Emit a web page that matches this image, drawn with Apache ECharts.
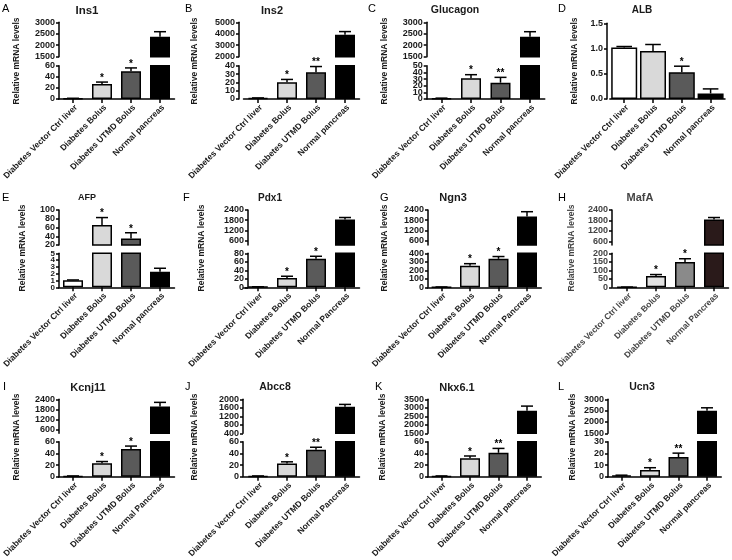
<!DOCTYPE html>
<html><head><meta charset="utf-8">
<script src="https://cdn.jsdelivr.net/npm/echarts@6/dist/echarts.min.js"></script>
<style>html,body{margin:0;padding:0;background:#fff}#c{width:732px;height:560px}</style>
</head><body><div id="c"></div>
<script>
// ---------------- data ----------------
const categoriesLower = ['Diabetes Vector Ctrl liver', 'Diabetes Bolus', 'Diabetes UTMD Bolus', 'Normal pancreas'];
const categoriesUpper = ['Diabetes Vector Ctrl liver', 'Diabetes Bolus', 'Diabetes UTMD Bolus', 'Normal Pancreas'];
const panelLetters = ['A', 'B', 'C', 'D', 'E', 'F', 'G', 'H', 'I', 'J', 'K', 'L'];
const geneNames = ['Ins1', 'Ins2', 'Glucagon', 'ALB', 'AFP', 'Pdx1', 'Ngn3', 'MafA', 'Kcnj11', 'Abcc8', 'Nkx6.1', 'Ucn3'];
const yAxisTitle = 'Relative mRNA levels';

const ins1Mean = [1, 27, 50, 2370];
const ins1Sem = [0.3, 3.5, 6, 220];
const ins1Sig = ['', '*', '*', ''];
const ins1LowTicks = [0, 20, 40, 60];
const ins1HighTicks = [1500, 2000, 2500, 3000];

const ins2Mean = [1, 20, 32, 3920];
const ins2Sem = [0.3, 3.5, 7, 270];
const ins2Sig = ['', '*', '**', ''];
const ins2LowTicks = [0, 10, 20, 30, 40];
const ins2HighTicks = [2000, 3000, 4000, 5000];

const glucagonMean = [1, 31, 24.5, 2370];
const glucagonSem = [0.3, 5.5, 8, 220];
const glucagonSig = ['', '*', '**', ''];
const glucagonLowTicks = [0, 10, 20, 30, 40, 50];
const glucagonHighTicks = [1500, 2000, 2500, 3000];

const albMean = [1.02, 0.95, 0.53, 0.11];
const albSem = [0.02, 0.13, 0.12, 0.09];
const albSig = ['', '', '*', ''];
const albTicks = [0, 0.5, 1.0, 1.5];

const afpMean = [1.03, 65.7, 35, 2.3];
const afpSem = [0.05, 17, 13, 0.5];
const afpSig = ['', '*', '*', ''];
const afpLowTicks = [0, 1, 2, 3, 4, 5];
const afpHighTicks = [20, 40, 60, 80, 100];

const pdx1Mean = [1, 22, 67, 1850];
const pdx1Sem = [0.3, 4, 6, 110];
const pdx1Sig = ['', '*', '*', ''];
const pdx1LowTicks = [0, 20, 40, 60, 80];
const pdx1HighTicks = [600, 1200, 1800, 2400];

const ngn3Mean = [3, 255, 335, 2020];
const ngn3Sem = [1, 23, 27, 280];
const ngn3Sig = ['', '*', '*', ''];
const ngn3LowTicks = [0, 100, 200, 300, 400];
const ngn3HighTicks = [600, 1200, 1800, 2400];

const mafaMean = [1, 67, 149, 1860];
const mafaSem = [0.3, 8, 19, 110];
const mafaSig = ['', '*', '*', ''];
const mafaLowTicks = [0, 50, 100, 150, 200];
const mafaHighTicks = [600, 1200, 1800, 2400];

const kcnj11Mean = [1, 23, 47.5, 1970];
const kcnj11Sem = [0.3, 3, 5, 250];
const kcnj11Sig = ['', '*', '*', ''];
const kcnj11LowTicks = [0, 20, 40, 60];
const kcnj11HighTicks = [600, 1200, 1800, 2400];

const abcc8Mean = [1, 22.5, 46, 1650];
const abcc8Sem = [0.3, 3, 4.5, 110];
const abcc8Sig = ['', '*', '**', ''];
const abcc8LowTicks = [0, 20, 40, 60];
const abcc8HighTicks = [400, 800, 1200, 1600, 2000];

const nkx61Mean = [1, 31.5, 41, 2820];
const nkx61Sem = [0.3, 4, 7.5, 280];
const nkx61Sig = ['', '*', '**', ''];
const nkx61LowTicks = [0, 20, 40, 60];
const nkx61HighTicks = [1500, 2000, 2500, 3000, 3500];

const ucn3Mean = [1, 5.7, 16.8, 2490];
const ucn3Sem = [0.3, 2, 3.4, 135];
const ucn3Sig = ['', '*', '**', ''];
const ucn3LowTicks = [0, 10, 20, 30];
const ucn3HighTicks = [1500, 2000, 2500, 3000];

// lower end of the upper (broken) axis segment
const highAxisFloor = [1500, 2000, 1500, null, 20, 350, 350, 400, 400, 400, 1500, 1500];

// ---------------- panels ----------------
const panels = [
  {mean: ins1Mean, sem: ins1Sem, sig: ins1Sig, low: ins1LowTicks, high: ins1HighTicks, cats: categoriesLower},
  {mean: ins2Mean, sem: ins2Sem, sig: ins2Sig, low: ins2LowTicks, high: ins2HighTicks, cats: categoriesLower},
  {mean: glucagonMean, sem: glucagonSem, sig: glucagonSig, low: glucagonLowTicks, high: glucagonHighTicks, cats: categoriesLower},
  {mean: albMean, sem: albSem, sig: albSig, low: albTicks, high: null, cats: categoriesLower},
  {mean: afpMean, sem: afpSem, sig: afpSig, low: afpLowTicks, high: afpHighTicks, cats: categoriesLower},
  {mean: pdx1Mean, sem: pdx1Sem, sig: pdx1Sig, low: pdx1LowTicks, high: pdx1HighTicks, cats: categoriesUpper},
  {mean: ngn3Mean, sem: ngn3Sem, sig: ngn3Sig, low: ngn3LowTicks, high: ngn3HighTicks, cats: categoriesUpper},
  {mean: mafaMean, sem: mafaSem, sig: mafaSig, low: mafaLowTicks, high: mafaHighTicks, cats: categoriesUpper},
  {mean: kcnj11Mean, sem: kcnj11Sem, sig: kcnj11Sig, low: kcnj11LowTicks, high: kcnj11HighTicks, cats: categoriesUpper},
  {mean: abcc8Mean, sem: abcc8Sem, sig: abcc8Sig, low: abcc8LowTicks, high: abcc8HighTicks, cats: categoriesUpper},
  {mean: nkx61Mean, sem: nkx61Sem, sig: nkx61Sig, low: nkx61LowTicks, high: nkx61HighTicks, cats: categoriesLower},
  {mean: ucn3Mean, sem: ucn3Sem, sig: ucn3Sig, low: ucn3LowTicks, high: ucn3HighTicks, cats: categoriesLower}
];

// ---------------- layout ----------------
const FONT = '"Liberation Sans", Arial, sans-serif';
const rows = [
  {hiTop: 22.3, hiBot: 56.7, loTop: 65.7, loBot: 99, titleY: 10.5, letterY: 8.5, nameY: 61},
  {hiTop: 210, hiBot: 245, loTop: 253.3, loBot: 287.3, titleY: 198, letterY: 197.5, nameY: 248},
  {hiTop: 399.3, hiBot: 433.3, loTop: 441.7, loBot: 476.7, titleY: 387.5, letterY: 387, nameY: 437}
];
const layout = [
  {axisX: 59, c2: 102, sp: 29, barW: 20, titleX: 87, titleSize: 11.5, letterX: 2, nameX: 17},
  {axisX: 239, c2: 287, sp: 29, barW: 20, titleX: 272, titleSize: 11, letterX: 185, nameX: 195},
  {axisX: 426.7, c2: 471, sp: 29.5, barW: 20, titleX: 455, titleSize: 10.5, letterX: 368, nameX: 385},
  {axisX: 607, c2: 653, sp: 28.8, barW: 26, titleX: 642, titleSize: 10, letterX: 558, nameX: 575, single: {top: 23.3, bot: 99}},
  {axisX: 59, c2: 102, sp: 29, barW: 20, titleX: 87, titleSize: 9, letterX: 2, nameX: 23, lowFont: 8},
  {axisX: 248, c2: 287, sp: 29, barW: 20, titleX: 270, titleSize: 10, letterX: 183, nameX: 202},
  {axisX: 428, c2: 470, sp: 28.5, barW: 20, titleX: 453, titleSize: 11, letterX: 380, nameX: 385},
  {axisX: 612, c2: 656, sp: 29, barW: 20, titleX: 640, titleSize: 11, letterX: 558, nameX: 572, colors: ['#ffffff', '#e2e2e2', '#8a8a8a', '#2a1a1a'], text: '#444'},
  {axisX: 59, c2: 102, sp: 29, barW: 20, titleX: 88, titleSize: 11, letterX: 3, nameX: 17},
  {axisX: 243, c2: 287, sp: 29, barW: 20, titleX: 275, titleSize: 10.5, letterX: 185, nameX: 195},
  {axisX: 428, c2: 470, sp: 28.5, barW: 20, titleX: 457, titleSize: 11, letterX: 375, nameX: 383},
  {axisX: 608, c2: 650, sp: 28.5, barW: 20, titleX: 642, titleSize: 10.5, letterX: 558, nameX: 573}
];
const barColors = ['#ffffff', '#d9d9d9', '#5a5a5a', '#000000'];

const grids = [], xAxes = [], yAxes = [], series = [], graphics = [];

function addPair(L, top, W, H, axisX, cats, ticks, min, showX, textColor, lowFont, fmt) {
  const gi = grids.length;
  const max = ticks[ticks.length - 1];
  grids.push({left: L, top: top, width: W, height: H, containLabel: false, outerBoundsMode: 'none'});
  xAxes.push({
    type: 'category', gridIndex: gi, data: cats, show: showX, boundaryGap: true,
    axisLine: {show: showX, onZero: false, lineStyle: {color: '#000', width: 1.5}},
    axisTick: {show: showX, alignWithLabel: true, length: 4, lineStyle: {color: '#000', width: 1.5}},
    axisLabel: {show: showX, interval: 0, rotate: 45, margin: 4, verticalAlign: 'top', color: textColor, fontFamily: FONT, fontWeight: 'bold', fontSize: 8.5},
    splitLine: {show: false}
  });
  // tick labels are split over two coincident y axes (alternate ticks) so that
  // tightly packed labels are all kept, as in the original figure
  const evenTicks = ticks.filter((t, i) => i % 2 === 0);
  const oddTicks = ticks.filter((t, i) => i % 2 === 1);
  const labelBase = {show: true, margin: 4, showMinLabel: true, showMaxLabel: true, hideOverlap: false,
    formatter: fmt, color: textColor, fontFamily: FONT, fontWeight: 'bold', fontSize: lowFont || 9};
  const yi = yAxes.length;
  yAxes.push({
    type: 'value', gridIndex: gi, position: 'left', min: min, max: max, offset: L - axisX,
    axisLine: {show: true, onZero: false, lineStyle: {color: '#000', width: 1.5}},
    axisTick: {show: true, length: 3, customValues: ticks, lineStyle: {color: '#000', width: 1.5}},
    axisLabel: Object.assign({customValues: evenTicks}, labelBase),
    splitLine: {show: false}
  });
  if (oddTicks.length) {
    yAxes.push({
      type: 'value', gridIndex: gi, position: 'left', min: min, max: max, offset: L - axisX,
      axisLine: {show: false}, axisTick: {show: false},
      axisLabel: Object.assign({customValues: oddTicks}, labelBase),
      splitLine: {show: false}
    });
  }
  return {xi: gi, yi: yi};
}

function makeErrRender(sigs, capHalf) {
  return function (params, api) {
    const i = api.value(0), m = api.value(1), s = api.value(2);
    const a = api.coord([i, m]), b = api.coord([i, m + s]);
    const st = {stroke: '#000', lineWidth: 1.5};
    const ch = [
      {type: 'line', shape: {x1: a[0], y1: a[1], x2: b[0], y2: b[1]}, style: st},
      {type: 'line', shape: {x1: b[0] - capHalf, y1: b[1], x2: b[0] + capHalf, y2: b[1]}, style: st}
    ];
    const sg = sigs[params.dataIndex];
    if (sg) ch.push({type: 'text', x: b[0], y: b[1] - 4,
      style: {text: sg, font: 'bold 10px ' + FONT, fill: '#000', align: 'center', verticalAlign: 'middle', textAlign: 'center', textVerticalAlign: 'middle'}});
    return {type: 'group', children: ch};
  };
}

function addSeries(ax, p, lay, colors, filterFn) {
  const barData = p.mean.map((v, i) => filterFn(i)
    ? {value: v, itemStyle: {color: colors[i], borderColor: '#000', borderWidth: 1.5}}
    : {value: '-'});
  series.push({type: 'bar', xAxisIndex: ax.xi, yAxisIndex: ax.yi, data: barData, barWidth: lay.barW, clip: true, silent: true, animation: false});
}
function addErr(ax, p, lay, filterFn) {
  const data = [], sigs = [];
  p.mean.forEach((v, i) => { if (filterFn(i)) { data.push([i, v, p.sem[i]]); sigs.push(p.sig[i]); } });
  if (!data.length) return;
  series.push({type: 'custom', xAxisIndex: ax.xi, yAxisIndex: ax.yi, data: data, clip: false, silent: true, animation: false,
    renderItem: makeErrRender(sigs, lay.barW * 0.3)});
}

const intFmt = v => String(v);
panels.forEach((p, k) => {
  const lay = layout[k];
  const row = rows[Math.floor(k / 4)];
  const L = lay.c2 - 1.5 * lay.sp, W = 4 * lay.sp;
  const colors = lay.colors || barColors;
  const textColor = lay.text || '#1a1a1a';
  if (lay.single) {
    const ax = addPair(L, lay.single.top, W, lay.single.bot - lay.single.top, lay.axisX, p.cats, p.low, p.low[0], true, textColor, null, v => v.toFixed(1));
    addSeries(ax, p, lay, colors, () => true);
    addErr(ax, p, lay, () => true);
  } else {
    const floor = highAxisFloor[k];
    const hi = addPair(L, row.hiTop, W, row.hiBot - row.hiTop, lay.axisX, p.cats, p.high, floor, false, textColor, null, intFmt);
    const lo = addPair(L, row.loTop, W, row.loBot - row.loTop, lay.axisX, p.cats, p.low, 0, true, textColor, lay.lowFont, intFmt);
    addSeries(lo, p, lay, colors, () => true);
    addSeries(hi, p, lay, colors, i => p.mean[i] >= floor);
    addErr(lo, p, lay, i => p.mean[i] < floor);
    addErr(hi, p, lay, i => p.mean[i] >= floor);
  }
  graphics.push({type: 'text', x: lay.titleX, y: row.titleY, silent: true,
    style: {text: geneNames[k], font: 'bold ' + lay.titleSize + 'px ' + FONT, fill: textColor, align: 'center', verticalAlign: 'middle', textAlign: 'center', textVerticalAlign: 'middle'}});
  graphics.push({type: 'text', x: lay.letterX, y: row.letterY, silent: true,
    style: {text: panelLetters[k], font: '11px ' + FONT, fill: '#000', align: 'left', verticalAlign: 'middle', textAlign: 'left', textVerticalAlign: 'middle'}});
  graphics.push({type: 'text', x: lay.nameX, y: row.nameY, rotation: Math.PI / 2, silent: true,
    style: {text: yAxisTitle, font: 'bold 8.5px ' + FONT, fill: textColor, align: 'center', verticalAlign: 'middle', textAlign: 'center', textVerticalAlign: 'middle'}});
});

const chart = echarts.init(document.getElementById('c'), null, {renderer: 'canvas'});
chart.setOption({
  animation: false,
  backgroundColor: '#ffffff',
  grid: grids, xAxis: xAxes, yAxis: yAxes, series: series,
  graphic: {elements: graphics}
});
</script></body></html>
